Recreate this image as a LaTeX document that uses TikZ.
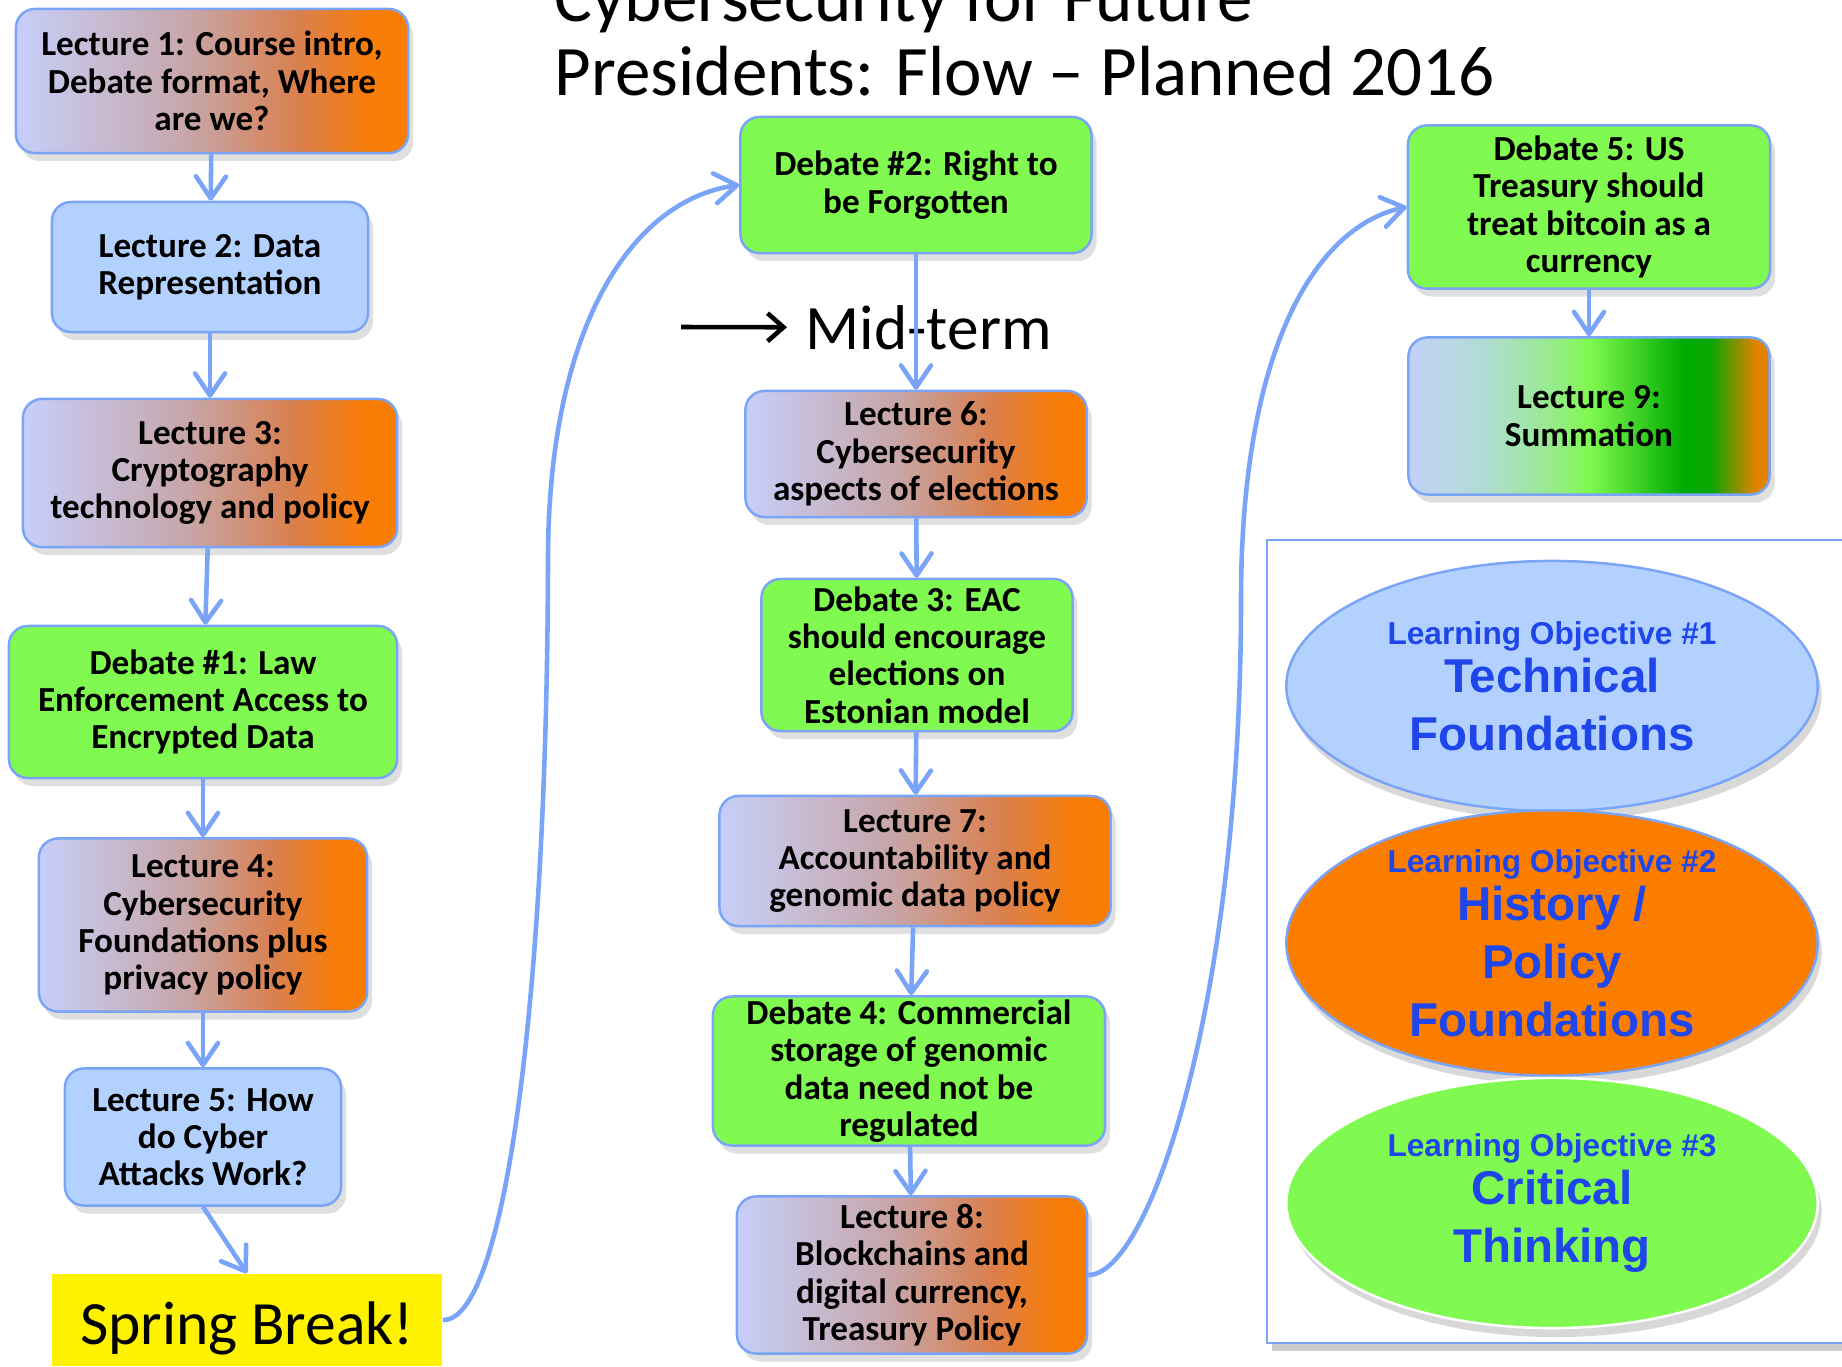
\documentclass[tikz,border=0pt]{standalone}
\usepackage{fontspec}
\setmainfont{Carlito}
\newfontfamily\objfont{Liberation Sans}
\usetikzlibrary{arrows.meta,shapes.geometric,shadows}

\definecolor{linkblue}{RGB}{122,164,247}
\definecolor{paleblue}{RGB}{179,209,255}
\definecolor{debgreen}{RGB}{128,249,80}
\definecolor{objorange}{RGB}{250,125,0}
\definecolor{objtext}{RGB}{30,70,235}

% lecture boxes: lavender running into orange
\pgfdeclarehorizontalshading{lecshade}{100bp}{%
  rgb(0bp)=(0.78,0.81,0.98); rgb(25bp)=(0.78,0.81,0.98);
  rgb(47bp)=(0.78,0.65,0.66); rgb(61bp)=(0.85,0.50,0.31);
  rgb(70bp)=(0.97,0.49,0.04); rgb(75bp)=(0.98,0.49,0); rgb(100bp)=(0.98,0.49,0)}
% summation box: blue, green, dark green, orange
\pgfdeclarehorizontalshading{sumshade}{100bp}{%
  rgb(0bp)=(0.76,0.82,0.98); rgb(25bp)=(0.76,0.82,0.98);
  rgb(35bp)=(0.70,0.86,0.84); rgb(45bp)=(0.59,0.92,0.55);
  rgb(50bp)=(0.50,0.98,0.31); rgb(63bp)=(0,0.67,0);
  rgb(67bp)=(0.05,0.65,0); rgb(73bp)=(0.88,0.51,0); rgb(75bp)=(0.90,0.51,0);
  rgb(100bp)=(0.90,0.51,0)}

\tikzset{
  box/.style={rectangle, rounded corners=1.9mm, draw=linkblue, line width=0.7pt,
    align=center, inner sep=0pt, font=\bfseries\fontsize{10}{10.6}\selectfont,
    drop shadow={shadow xshift=0.5mm, shadow yshift=-0.8mm, opacity=0.25}},
  lecture/.style={box, shade, shading=lecshade},
  basics/.style={box, fill=paleblue},
  debate/.style={box, fill=debgreen},
  link/.style={draw=linkblue, line width=1.3pt,
    -{Straight Barb[length=2.2mm,width=3mm,round]}},
  objective/.style={ellipse, minimum width=5.31cm, minimum height=2.5cm,
    inner sep=0pt, align=center, text=objtext, line width=0.7pt,
    font=\objfont\bfseries\fontsize{13.5}{16.5}\selectfont,
    drop shadow={shadow xshift=0.4mm, shadow yshift=-0.9mm, opacity=0.3}},
}
\newcommand{\objhead}{\fontsize{9}{10}\selectfont}

\begin{document}
\begin{tikzpicture}[x=0.01cm, y=-0.01cm]
  \useasboundingbox (0,0) rectangle (1842,1366);

  % Title (first line runs off the top)
  \node[anchor=base west, inner sep=0pt, font=\fontsize{20.2}{24}\selectfont] (title1) at (554,21) {Cybersecurity for Future};
  \node[anchor=base west, inner sep=0pt, font=\fontsize{20.2}{24}\selectfont] (title2) at (554,95) {Presidents: Flow -- Planned 2016};

  % First column
  \node[lecture, minimum width=3.92cm, minimum height=1.44cm] (lec1) at (212,81) {Lecture 1: Course intro,\\ Debate format, Where\\ are we?};
  \node[basics, minimum width=3.16cm, minimum height=1.30cm] (lec2) at (210,267) {Lecture 2: Data\\ Representation};
  \node[lecture, minimum width=3.74cm, minimum height=1.48cm] (lec3) at (210,473) {Lecture 3:\\ Cryptography\\ technology and policy};
  \node[debate, minimum width=3.88cm, minimum height=1.52cm] (deb1) at (203,702) {Debate \#1: Law\\ Enforcement Access to\\ Encrypted Data};
  \node[lecture, minimum width=3.28cm, minimum height=1.73cm] (lec4) at (203,925) {Lecture 4:\\ Cybersecurity\\ Foundations plus\\ privacy policy};
  \node[basics, minimum width=2.76cm, minimum height=1.37cm] (lec5) at (203,1137) {Lecture 5: How\\ do Cyber\\ Attacks Work?};
  \node[fill=yellow, minimum width=3.9cm, minimum height=0.92cm, inner sep=0pt,
        text height=15pt, text depth=0.8pt, font=\fontsize{17.5}{20}\selectfont] (spring) at (247,1320) {Spring Break!};

  % Second column
  \node[debate, minimum width=3.51cm, minimum height=1.36cm] (deb2) at (916,185) {Debate \#2: Right to\\ be Forgotten};
  \node[anchor=base west, inner xsep=1.8mm, inner ysep=0pt, font=\fontsize{18}{20}\selectfont] (midterm) at (787,349) {Mid-term};
  \coordinate (midtail) at (681,327);
  \node[lecture, minimum width=3.41cm, minimum height=1.26cm] (lec6) at (916,454) {Lecture 6:\\ Cybersecurity\\ aspects of elections};
  \node[debate, minimum width=3.11cm, minimum height=1.52cm] (deb3) at (917,655) {Debate 3: EAC\\ should encourage\\ elections on\\ Estonian model};
  \node[lecture, minimum width=3.91cm, minimum height=1.30cm] (lec7) at (915,861) {Lecture 7:\\ Accountability and\\ genomic data policy};
  \node[debate, minimum width=3.92cm, minimum height=1.49cm] (deb4) at (909,1071) {Debate 4: Commercial\\ storage of genomic\\ data need not be\\ regulated};
  \node[lecture, minimum width=3.50cm, minimum height=1.57cm] (lec8) at (912,1275) {Lecture 8:\\ Blockchains and\\ digital currency,\\ Treasury Policy};

  % Third column
  \node[debate, minimum width=3.62cm, minimum height=1.63cm] (deb5) at (1589,207) {Debate 5: US\\ Treasury should\\ treat bitcoin as a\\ currency};
  \node[box, shade, shading=sumshade, minimum width=3.61cm, minimum height=1.57cm] (lec9) at (1589,416) {Lecture 9:\\ Summation};

  % Learning objectives panel
  \draw[linkblue, line width=0.7pt, fill=white,
        drop shadow={shadow xshift=0.5mm, shadow yshift=-0.8mm, opacity=0.4}] (1267,540) rectangle (1860,1343);
  \node[objective, fill=paleblue, draw=linkblue] (obj1) at (1552,686) {{\objhead Learning Objective \#1}\\[-2.8pt] Technical\\ Foundations};
  \node[objective, fill=objorange, draw=linkblue, minimum height=2.35cm] (obj2) at (1552,943) {{\objhead Learning Objective \#2}\\[-2.8pt] History /\\ Policy\\ Foundations};
  \node[objective, fill=debgreen, draw=white] (obj3) at (1552,1203) {{\objhead Learning Objective \#3}\\[-2.8pt] Critical\\ Thinking};

  % Connectors
  \draw[line width=1.3pt, -{Straight Barb[length=1.6mm,width=2.8mm]}] (midtail) -- (midterm.west);
  \draw[link] (lec1) -- (lec2);
  \draw[link] (lec2) -- (lec3);
  \draw[link] (lec3) -- (deb1);
  \draw[link] (deb1) -- (lec4);
  \draw[link] (lec4) -- (lec5);
  \draw[link] (lec5.south) -- (spring.north);
  \draw[link] (deb2) -- (lec6);
  \draw[link] (lec6) -- (deb3);
  \draw[link] (deb3) -- (lec7);
  \draw[link] (lec7) -- (deb4);
  \draw[link] (deb4) -- (lec8);
  \draw[link] (deb5) -- (lec9);
  \draw[link] (spring.east) .. controls (505,1322) and (547,1000) .. (548,560)
    .. controls (548,330) and (630,200) .. (deb2.west);
  \draw[link] (lec8.east) .. controls (1150,1275) and (1241,1000) .. (1241,600)
    .. controls (1241,340) and (1320,225) .. (deb5.west);

\end{tikzpicture}
\end{document}
